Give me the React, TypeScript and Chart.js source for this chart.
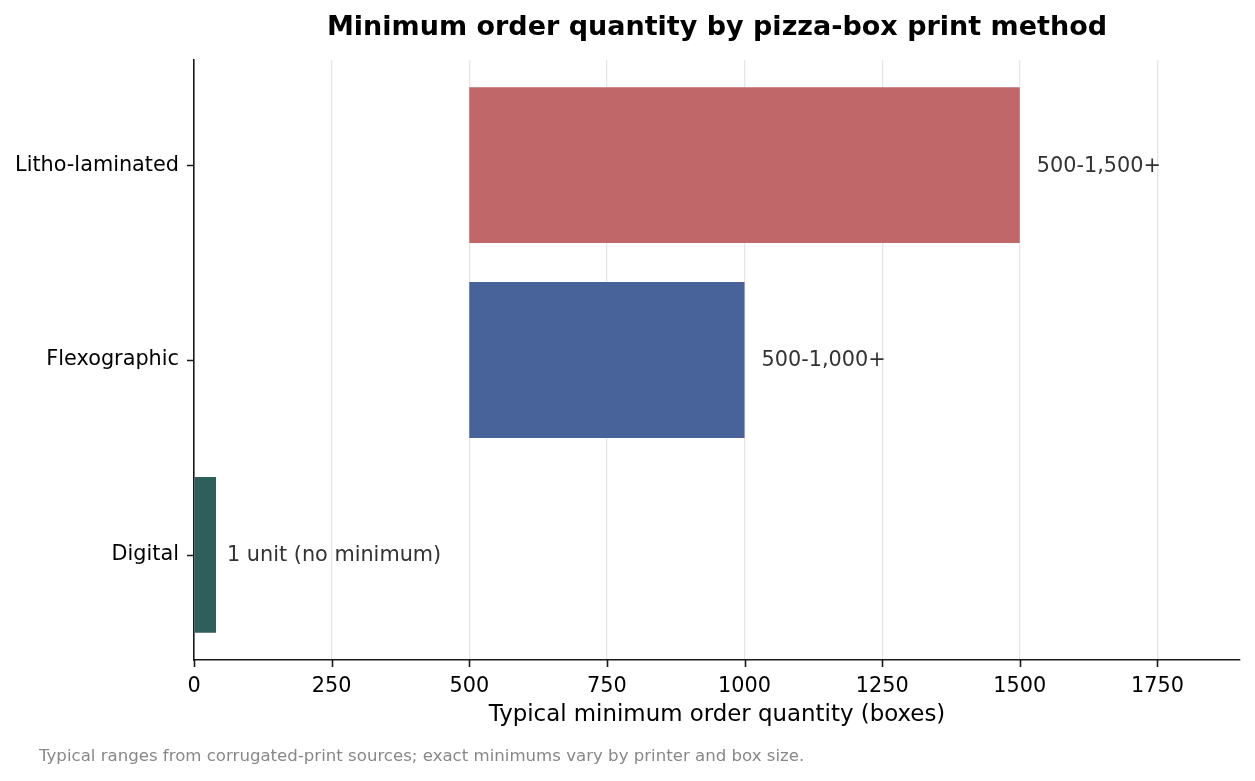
import { useEffect, useRef } from 'react';
import { Chart, registerables } from 'chart.js';

Chart.register(...registerables);

// data
const categories = ['Litho-laminated', 'Flexographic', 'Digital'];
const rangeLow = [500, 500, 0];
const rangeHigh = [1500, 1000, 40];
const valueLabels = ['500-1,500+', '500-1,000+', '1 unit (no minimum)'];
const barColors = ['#C0676A', '#48639A', '#2E5F5B'];
const xTickValues = [0, 250, 500, 750, 1000, 1250, 1500, 1750];
const xMin = 0;
const xMax = 1900;

const titleText = 'Minimum order quantity by pizza-box print method';
const xTitle = 'Typical minimum order quantity (boxes)';
const footnote = 'Typical ranges from corrugated-print sources; exact minimums vary by printer and box size.';

const FONT = "'DejaVu Sans', sans-serif";
const labelGap = [17, 17, 11];

const decorPlugin = {
  id: 'decor',
  afterDraw(chart: Chart) {
    const { ctx, chartArea } = chart;
    const xs = chart.scales.x;
    const ys = chart.scales.y;
    ctx.save();

    // tick marks on the spines
    ctx.strokeStyle = '#1a1a1a';
    ctx.lineWidth = 1.6;
    ctx.beginPath();
    xs.ticks.forEach((t) => {
      const px = Math.round(xs.getPixelForValue(t.value)) + 0.5;
      ctx.moveTo(px, chartArea.bottom);
      ctx.lineTo(px, chartArea.bottom + 7);
    });
    ys.ticks.forEach((t) => {
      const py = Math.round(ys.getPixelForValue(t.value)) + 0.5;
      ctx.moveTo(chartArea.left, py);
      ctx.lineTo(chartArea.left - 7, py);
    });
    ctx.stroke();

    // value labels next to bars
    const meta = chart.getDatasetMeta(0);
    ctx.fillStyle = '#333';
    ctx.font = `20.8px ${FONT}`;
    ctx.textAlign = 'left';
    ctx.textBaseline = 'middle';
    meta.data.forEach((el: any, i) => {
      const end = Math.max(el.x, el.base);
      ctx.fillText(valueLabels[i], end + labelGap[i], el.y + 1);
    });

    const cx = (chartArea.left + chartArea.right) / 2;
    ctx.textBaseline = 'alphabetic';

    // title
    ctx.fillStyle = '#000';
    ctx.textAlign = 'center';
    ctx.font = `bold 27px ${FONT}`;
    ctx.fillText(titleText, cx, 35);

    // x axis title
    ctx.font = `22.9px ${FONT}`;
    ctx.fillText(xTitle, cx, 721);

    // footnote
    ctx.fillStyle = '#888';
    ctx.textAlign = 'left';
    ctx.font = `16.6px ${FONT}`;
    ctx.fillText(footnote, 39, 761);

    ctx.restore();
  },
};

export default function App() {
  const canvasRef = useRef<HTMLCanvasElement>(null);

  useEffect(() => {
    if (!canvasRef.current) return;
    const chart = new Chart(canvasRef.current, {
      type: 'bar',
      data: {
        datasets: [
          {
            data: categories.map((_, i) => ({ y: i, x: [rangeLow[i], rangeHigh[i]] })) as any,
            backgroundColor: barColors,
            borderWidth: 0,
            barPercentage: 0.8,
            categoryPercentage: 1,
          },
        ],
      },
      options: {
        indexAxis: 'y',
        animation: false,
        responsive: true,
        maintainAspectRatio: false,
        devicePixelRatio: 1,
        layout: { padding: { left: 0, right: 15, top: 60, bottom: 0 } },
        plugins: {
          legend: { display: false },
          title: { display: false },
          tooltip: { enabled: false },
        },
        scales: {
          x: {
            type: 'linear',
            min: xMin,
            max: xMax,
            afterBuildTicks: (scale: any) => {
              scale.ticks = xTickValues.map((v) => ({ value: v }));
            },
            afterFit: (scale: any) => {
              scale.height = 121;
            },
            grid: { color: '#e6e6e6', lineWidth: 1.3, drawTicks: false },
            border: { display: true, color: '#1a1a1a', width: 1.6 },
            ticks: {
              color: '#000',
              padding: 14,
              maxRotation: 0,
              autoSkip: false,
              font: { family: FONT, size: 20.8 },
              callback: (v: any) => String(v),
            },
          },
          y: {
            type: 'linear',
            offset: false,
            min: -0.54,
            max: categories.length - 1 + 0.54,
            reverse: true,
            afterBuildTicks: (scale: any) => {
              scale.ticks = categories.map((_, i) => ({ value: i }));
            },
            afterFit: (scale: any) => {
              scale.width = 194;
            },
            grid: { display: false, drawTicks: false, offset: false },
            border: { display: true, color: '#1a1a1a', width: 1.6 },
            ticks: {
              color: '#000',
              padding: 15,
              autoSkip: false,
              font: { family: FONT, size: 20.8 },
              callback: (v: any) => categories[Number(v)] ?? '',
            },
          },
        },
      },
      plugins: [decorPlugin],
    });
    return () => {
      chart.destroy();
    };
  }, []);

  return (
    <div style={{ position: 'fixed', left: 0, top: 0, width: 1255, height: 781, background: '#fff' }}>
      <canvas ref={canvasRef} />
    </div>
  );
}
